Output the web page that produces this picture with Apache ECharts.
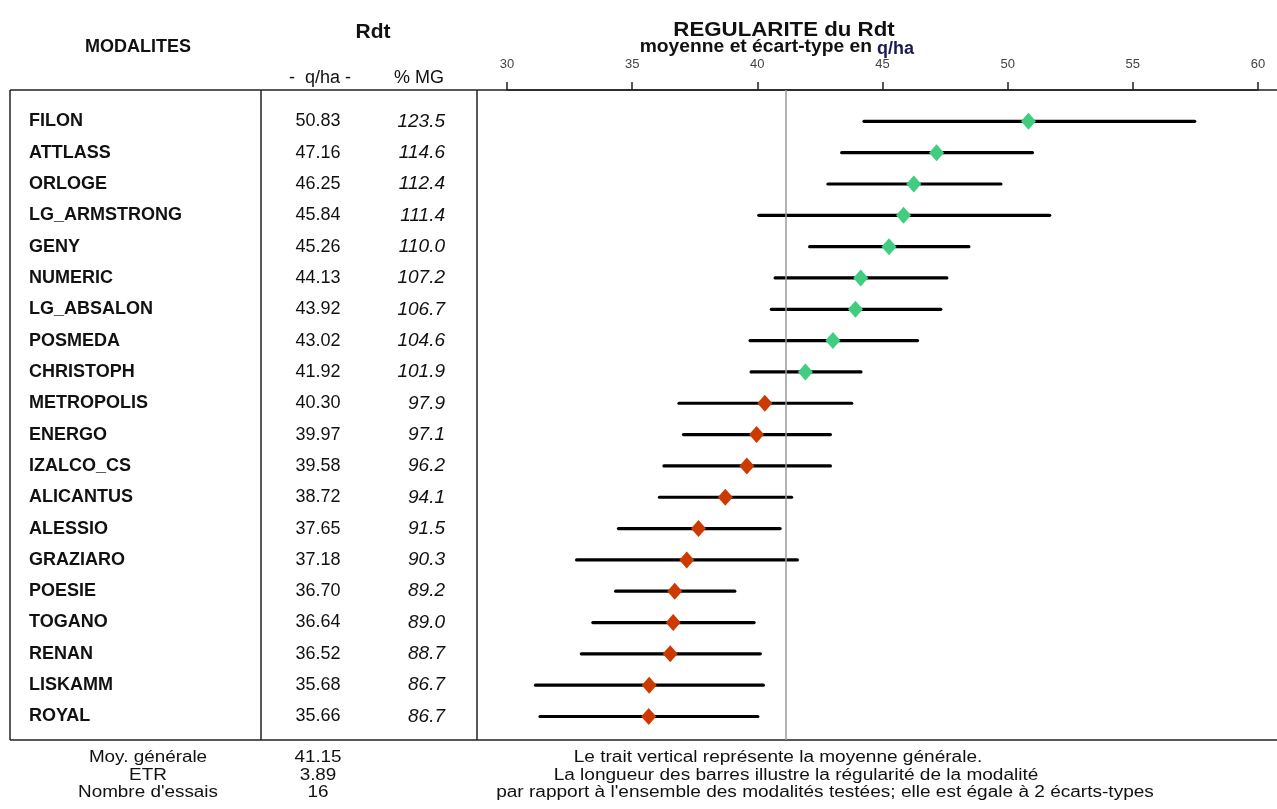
<!DOCTYPE html>
<html>
<head>
<meta charset="utf-8">
<script src="https://cdn.jsdelivr.net/npm/echarts@6/dist/echarts.min.js"></script>
<style>
html,body{margin:0;padding:0;background:#fff;}
#chart{width:1277px;height:809px;}
</style>
</head>
<body>
<div id="chart"></div>
<script>
// ---- data ----
const modalites = ['FILON','ATTLASS','ORLOGE','LG_ARMSTRONG','GENY','NUMERIC','LG_ABSALON','POSMEDA','CHRISTOPH','METROPOLIS','ENERGO','IZALCO_CS','ALICANTUS','ALESSIO','GRAZIARO','POESIE','TOGANO','RENAN','LISKAMM','ROYAL'];
const rdt = [50.83,47.16,46.25,45.84,45.26,44.13,43.92,43.02,41.92,40.30,39.97,39.58,38.72,37.65,37.18,36.70,36.64,36.52,35.68,35.66];
const pctMG = ['123.5','114.6','112.4','111.4','110.0','107.2','106.7','104.6','101.9','97.9','97.1','96.2','94.1','91.5','90.3','89.2','89.0','88.7','86.7','86.7'];
const barLow  = [44.26,43.37,42.82,40.06,42.09,40.71,40.56,39.71,39.75,36.87,37.05,36.27,36.09,34.45,32.78,34.34,33.43,32.97,31.14,31.32];
const barHigh = [57.47,50.99,49.73,51.68,48.45,47.57,47.33,46.40,44.14,43.77,42.92,42.92,41.37,40.91,41.60,39.10,39.87,40.12,40.24,40.02];
const moyGenerale = 41.15;
const etr = '3.89';
const nbEssais = '16';
const xTicks = [30, 60, 5]; // min, max, interval
const footerLeftLabels = ['Moy. générale','ETR',"Nombre d'essais"];
const footerLeftValues = [moyGenerale.toFixed(2), etr, nbEssais];
const footerNotes = ['Le trait vertical représente la moyenne générale.',
  'La longueur des barres illustre la régularité de la modalité',
  "par rapport à l'ensemble des modalités testées; elle est égale à 2 écarts-types"];

// ---- chart ----
const FONT = "'Liberation Sans', Arial, sans-serif";
const GREEN = '#40cd80', RED = '#cc3a00';
const chart = echarts.init(document.getElementById('chart'), null, {renderer:'canvas'});

function rowLabel(arr){
  return function(v){
    const r = Math.round(v);
    if (Math.abs(v - r) > 1e-6 || r < 1 || r > arr.length) return '';
    return arr[r-1];
  };
}
const yBase = {type:'value', gridIndex:0, position:'left', offset:0, min:0, max:20.75, interval:1, inverse:true,
  axisLine:{show:false}, axisTick:{show:false}, splitLine:{show:false}};

const lineStyle = {stroke:'#222', lineWidth:1.5};
const graphics = [
  {type:'line', shape:{x1:10,y1:90,x2:1277,y2:90}, style:lineStyle},
  {type:'line', shape:{x1:10,y1:740,x2:1277,y2:740}, style:lineStyle},
  {type:'line', shape:{x1:10,y1:90,x2:10,y2:740}, style:lineStyle},
  {type:'line', shape:{x1:261,y1:90,x2:261,y2:740}, style:lineStyle},
  {type:'line', shape:{x1:477,y1:90,x2:477,y2:740}, style:lineStyle},
  {type:'text', x:138, y:47, style:{text:'MODALITES', font:'bold 18px '+FONT, fill:'#111', align:'center', verticalAlign:'middle'}},
  {type:'text', x:373, y:32, style:{text:'Rdt', font:'bold 21px '+FONT, fill:'#111', align:'center', verticalAlign:'middle'}},
  {type:'text', x:320, y:78, style:{text:'-  q/ha -', font:'18px '+FONT, fill:'#111', align:'center', verticalAlign:'middle'}},
  {type:'text', x:419, y:78, style:{text:'% MG', font:'18px '+FONT, fill:'#111', align:'center', verticalAlign:'middle'}},
  {type:'text', x:784, y:30, scaleX:1.06, style:{text:'REGULARITE du Rdt', font:'bold 21px '+FONT, fill:'#111', align:'center', verticalAlign:'middle'}},
  {type:'text', x:872, y:47, scaleX:1.07, style:{text:'moyenne et écart-type en', font:'bold 18px '+FONT, fill:'#111', align:'right', verticalAlign:'middle'}},
  {type:'text', x:877, y:49, style:{text:'q/ha', font:'bold 18px '+FONT, fill:'#1b1b50', align:'left', verticalAlign:'middle'}}
];
footerLeftLabels.forEach((t,i)=>{
  graphics.push({type:'text', x:148, y:758+i*17.5, scaleX:1.18, style:{text:t, font:'16px '+FONT, fill:'#111', align:'center', verticalAlign:'middle'}});
  graphics.push({type:'text', x:318, y:758+i*17.5, scaleX:1.18, style:{text:footerLeftValues[i], font:'16px '+FONT, fill:'#111', align:'center', verticalAlign:'middle'}});
});
const noteCenters = [778, 796, 825];
footerNotes.forEach((t,i)=>{
  graphics.push({type:'text', x:noteCenters[i], y:758+i*17.5, scaleX:1.19, style:{text:t, font:'16px '+FONT, fill:'#111', align:'center', verticalAlign:'middle'}});
});

const option = {
  backgroundColor:'#fff',
  animation:false,
  grid:[{left:507, right:19, top:90, bottom:69, outerBoundsMode:'none', containLabel:false}],
  xAxis:[{type:'value', gridIndex:0, position:'top', min:xTicks[0], max:xTicks[1], interval:xTicks[2],
    axisLine:{show:true, lineStyle:{color:'#222', width:1.5}},
    axisTick:{show:true, inside:false, length:8, lineStyle:{color:'#222', width:1.5}},
    axisLabel:{show:true, margin:19, color:'#444', fontSize:13, fontFamily:FONT},
    splitLine:{show:false}}],
  yAxis:[
    Object.assign({}, yBase, {axisLabel:{show:true, formatter:rowLabel(modalites), align:'left', margin:478, fontSize:18, fontWeight:'bold', color:'#111', fontFamily:FONT}}),
    Object.assign({}, yBase, {axisLabel:{show:true, formatter:rowLabel(rdt.map(v=>v.toFixed(2))), align:'center', margin:189, fontSize:18, color:'#111', fontFamily:FONT}}),
    Object.assign({}, yBase, {axisLabel:{show:true, formatter:rowLabel(pctMG), align:'right', margin:62, fontSize:19, fontStyle:'italic', color:'#111', fontFamily:FONT}})
  ],
  series:[
    {type:'custom', xAxisIndex:0, yAxisIndex:0, silent:true,
      data: rdt.map((m,i)=>[barLow[i], barHigh[i], i+1]),
      encode:{x:[0,1], y:2},
      renderItem:function(params, api){
        const p1 = api.coord([api.value(0), api.value(2)]);
        const p2 = api.coord([api.value(1), api.value(2)]);
        return {type:'line', shape:{x1:p1[0], y1:p1[1], x2:p2[0], y2:p2[1]},
          style:{stroke:'#000', lineWidth:3.2, lineCap:'round'}};
      },
      markLine:{silent:true, symbol:'none', label:{show:false},
        lineStyle:{color:'#9a9a9a', width:1.5, type:'solid'},
        data:[{xAxis:moyGenerale}]},
      z:2},
    {type:'scatter', xAxisIndex:0, yAxisIndex:0, symbol:'diamond', symbolSize:[15,17],
      data: rdt.map((m,i)=>[m, i+1]),
      itemStyle:{color:function(p){ return rdt[p.dataIndex] >= moyGenerale ? GREEN : RED; }, opacity:1},
      z:3}
  ],
  graphic: graphics
};
chart.setOption(option);
</script>
</body>
</html>
